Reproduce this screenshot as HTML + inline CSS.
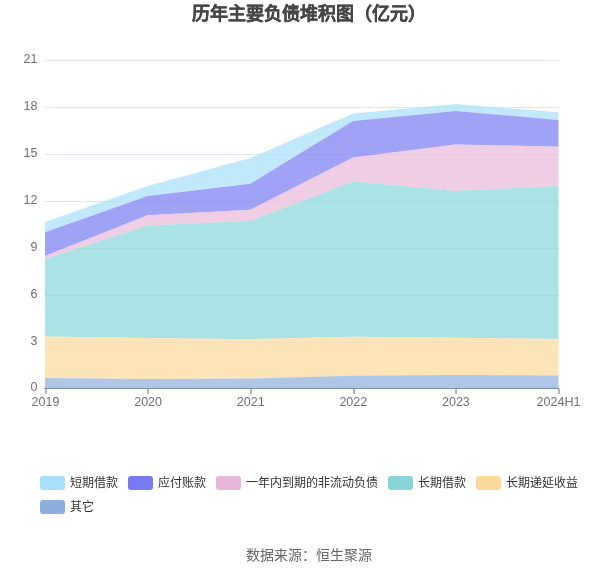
<!DOCTYPE html>
<html lang="zh-CN"><head><meta charset="utf-8"><style>
html,body{margin:0;padding:0;background:#fff;}
body{width:605px;height:575px;overflow:hidden;position:relative;font-family:"Liberation Sans",sans-serif;}
svg{position:absolute;left:0;top:0;will-change:transform;}
.ax{font-size:12.5px;fill:#6e7079;font-family:"Liberation Sans",sans-serif;}
.lg{font-size:12px;fill:#333;font-family:"Liberation Sans",sans-serif;}
.title{font-size:18px;font-weight:bold;fill:#464646;stroke:#464646;stroke-width:0.25;font-family:"Liberation Sans",sans-serif;}
.src{font-size:14px;fill:#666;font-family:"Liberation Sans",sans-serif;}
</style></head><body>
<svg width="605" height="575" viewBox="0 0 605 575">
<text x="308.5" y="19.8" text-anchor="middle" class="title">历年主要负债堆积图（亿元）</text>
<line x1="45" y1="60.5" x2="559" y2="60.5" stroke="#e0e6f1" stroke-width="1"/>
<line x1="45" y1="107.5" x2="559" y2="107.5" stroke="#e0e6f1" stroke-width="1"/>
<line x1="45" y1="154.5" x2="559" y2="154.5" stroke="#e0e6f1" stroke-width="1"/>
<line x1="45" y1="201.5" x2="559" y2="201.5" stroke="#e0e6f1" stroke-width="1"/>
<line x1="45" y1="248.5" x2="559" y2="248.5" stroke="#e0e6f1" stroke-width="1"/>
<line x1="45" y1="295.5" x2="559" y2="295.5" stroke="#e0e6f1" stroke-width="1"/>
<line x1="45" y1="342.5" x2="559" y2="342.5" stroke="#e0e6f1" stroke-width="1"/>
<line x1="44.5" y1="388.5" x2="559" y2="388.5" stroke="#484848" stroke-width="1"/>
<path d="M45.00,222.00 L147.70,185.90 L250.40,158.00 L353.10,113.60 L455.80,104.05 L558.50,112.30 L558.50,120.00 L455.80,110.90 L353.10,121.00 L250.40,183.70 L147.70,196.00 L45.00,232.20 Z" fill="#a8e0fa" fill-opacity="0.7"/>
<path d="M45.00,232.20 L147.70,196.00 L250.40,183.70 L353.10,121.00 L455.80,110.90 L558.50,120.00 L558.50,146.80 L455.80,144.40 L353.10,157.60 L250.40,209.75 L147.70,215.20 L45.00,255.90 Z" fill="#787af2" fill-opacity="0.7"/>
<path d="M45.00,255.90 L147.70,215.20 L250.40,209.75 L353.10,157.60 L455.80,144.40 L558.50,146.80 L558.50,185.90 L455.80,190.90 L353.10,181.50 L250.40,220.90 L147.70,225.60 L45.00,258.90 Z" fill="#e8b8d8" fill-opacity="0.7"/>
<path d="M45.00,258.90 L147.70,225.60 L250.40,220.90 L353.10,181.50 L455.80,190.90 L558.50,185.90 L558.50,338.90 L455.80,337.80 L353.10,336.80 L250.40,339.20 L147.70,338.10 L45.00,336.60 Z" fill="#88d5d9" fill-opacity="0.7"/>
<path d="M45.00,336.60 L147.70,338.10 L250.40,339.20 L353.10,336.80 L455.80,337.80 L558.50,338.90 L558.50,375.60 L455.80,375.10 L353.10,375.70 L250.40,378.50 L147.70,379.10 L45.00,378.00 Z" fill="#fdd89b" fill-opacity="0.7"/>
<path d="M45.00,378.00 L147.70,379.10 L250.40,378.50 L353.10,375.70 L455.80,375.10 L558.50,375.60 L558.50,389.00 L455.80,389.00 L353.10,389.00 L250.40,389.00 L147.70,389.00 L45.00,389.00 Z" fill="#8eaedb" fill-opacity="0.7"/>
<line x1="46" y1="389" x2="46" y2="394" stroke="#6e7079" stroke-width="1"/>
<line x1="148" y1="389" x2="148" y2="394" stroke="#6e7079" stroke-width="1"/>
<line x1="251" y1="389" x2="251" y2="394" stroke="#6e7079" stroke-width="1"/>
<line x1="354" y1="389" x2="354" y2="394" stroke="#6e7079" stroke-width="1"/>
<line x1="456" y1="389" x2="456" y2="394" stroke="#6e7079" stroke-width="1"/>
<line x1="559" y1="389" x2="559" y2="394" stroke="#6e7079" stroke-width="1"/>
<text x="37.5" y="62.8" text-anchor="end" class="ax">21</text>
<text x="37.5" y="109.8" text-anchor="end" class="ax">18</text>
<text x="37.5" y="156.8" text-anchor="end" class="ax">15</text>
<text x="37.5" y="203.8" text-anchor="end" class="ax">12</text>
<text x="37.5" y="250.8" text-anchor="end" class="ax">9</text>
<text x="37.5" y="297.8" text-anchor="end" class="ax">6</text>
<text x="37.5" y="344.8" text-anchor="end" class="ax">3</text>
<text x="37.5" y="390.8" text-anchor="end" class="ax">0</text>
<text x="45.5" y="406" text-anchor="middle" class="ax">2019</text>
<text x="148.1" y="406" text-anchor="middle" class="ax">2020</text>
<text x="250.7" y="406" text-anchor="middle" class="ax">2021</text>
<text x="353.3" y="406" text-anchor="middle" class="ax">2022</text>
<text x="455.9" y="406" text-anchor="middle" class="ax">2023</text>
<text x="558.5" y="406" text-anchor="middle" class="ax">2024H1</text>
<rect x="40" y="476" width="25" height="14" rx="3" ry="3" fill="#a8e0fa"/>
<text x="70" y="486.7" class="lg">短期借款</text>
<rect x="128" y="476" width="25" height="14" rx="3" ry="3" fill="#787af2"/>
<text x="158" y="486.7" class="lg">应付账款</text>
<rect x="216" y="476" width="25" height="14" rx="3" ry="3" fill="#e8b8d8"/>
<text x="246" y="486.7" class="lg">一年内到期的非流动负债</text>
<rect x="388" y="476" width="25" height="14" rx="3" ry="3" fill="#88d5d9"/>
<text x="418" y="486.7" class="lg">长期借款</text>
<rect x="476" y="476" width="25" height="14" rx="3" ry="3" fill="#fdd89b"/>
<text x="506" y="486.7" class="lg">长期递延收益</text>
<rect x="40" y="500" width="25" height="14" rx="3" ry="3" fill="#8eaedb"/>
<text x="70" y="510.7" class="lg">其它</text>
<text x="308.5" y="560" text-anchor="middle" class="src">数据来源：恒生聚源</text>
</svg>
</body></html>
